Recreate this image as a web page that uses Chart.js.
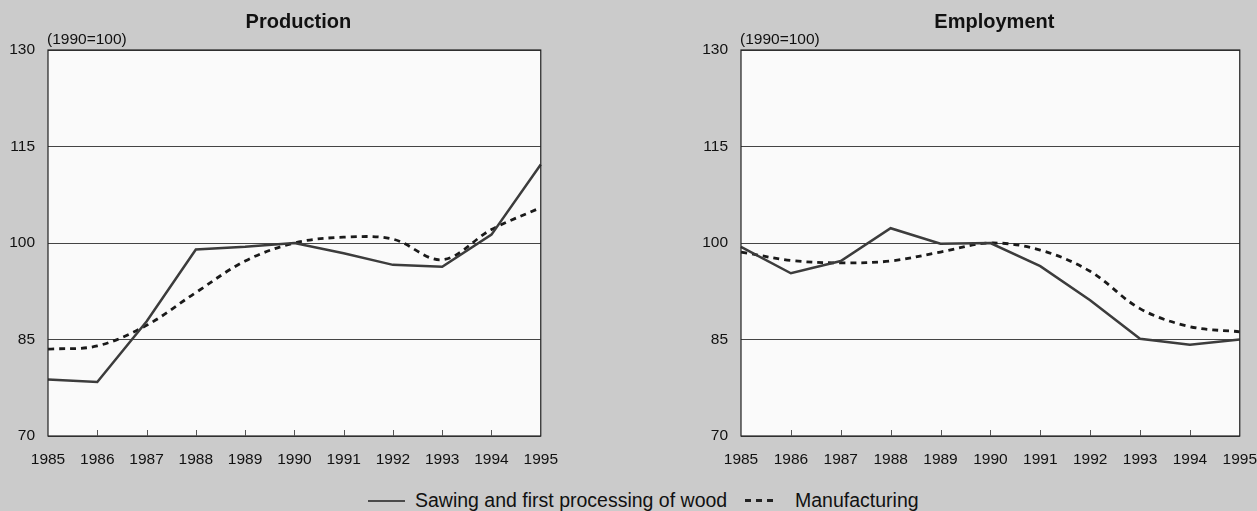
<!DOCTYPE html>
<html>
<head>
<meta charset="utf-8">
<script src="https://cdn.jsdelivr.net/npm/chart.js@4.4.1/dist/chart.umd.min.js"></script>
<style>
    body { margin: 0; width: 1257px; height: 511px; overflow: hidden; background: #cbcbcb; font-family: "Liberation Sans", Arial, sans-serif; }
    .box { position: absolute; top: 0; height: 470px; }
    #prodBox { left: 0; width: 572px; }
    #empBox { left: 693px; width: 578px; }
    #legend { position: absolute; left: 0; top: 489px; width: 1257px; height: 22px; color: #111; font-size: 19.5px; white-space: nowrap; }
    #legend span { position: absolute; top: 0; }
    .solidKey { position: absolute; left: 368px; top: 11px; width: 37px; height: 0; border-top: 2px solid #4a4a4a; }
    .dashKey { position: absolute; left: 745px; top: 10px; width: 31px; height: 3px;
        background: repeating-linear-gradient(90deg, #222 0 6px, transparent 6px 11px); }
</style>
</head>
<body>
<div class="box" id="prodBox"><canvas id="prodChart"></canvas></div>
<div class="box" id="empBox"><canvas id="empChart"></canvas></div>
<div id="legend">
    <div class="solidKey"></div>
    <span style="left:415px">Sawing and first processing of wood</span>
    <div class="dashKey"></div>
    <span style="left:795px">Manufacturing</span>
</div>
<script>
    // years on the x axis
    const years = ['1985', '1986', '1987', '1988', '1989', '1990', '1991', '1992', '1993', '1994', '1995'];

    // Production, 1990=100
    const prodSawing = [78.8, 78.4, 87.8, 99.0, 99.4, 100.0, 98.4, 96.6, 96.3, 101.3, 112.2];
    const prodManuf = [83.5, 84.0, 87.2, 92.3, 97.2, 100.0, 100.9, 100.6, 97.4, 102.1, 105.5];

    // Employment, 1990=100
    const empSawing = [99.4, 95.3, 97.2, 102.3, 99.9, 100.0, 96.4, 91.1, 85.1, 84.2, 85.0];
    const empManuf = [98.6, 97.3, 96.9, 97.2, 98.6, 100.0, 98.9, 95.6, 89.8, 87.0, 86.2];

    const yTicks = [70, 85, 100, 115, 130];
    const unitLabel = '(1990=100)';
    const fontFam = '"Liberation Sans", Arial, sans-serif';

    // plot background, frame, inner tick marks, title and unit text
    const framePlugin = {
        id: 'frame',
        beforeDraw(chart) {
            const a = chart.chartArea, ctx = chart.ctx;
            ctx.save();
            ctx.fillStyle = '#fafafa';
            ctx.fillRect(a.left, a.top, a.right - a.left, a.bottom - a.top);
            ctx.restore();
        },
        afterDraw(chart) {
            const a = chart.chartArea, ctx = chart.ctx;
            const xs = chart.scales.x;
            ctx.save();
            ctx.strokeStyle = '#222';
            ctx.lineWidth = 1.2;
            ctx.strokeRect(a.left, a.top, a.right - a.left, a.bottom - a.top);
            ctx.lineWidth = 1;
            ctx.strokeStyle = '#555';
            for (let i = 1; i < years.length - 1; i++) {
                const px = Math.round(xs.getPixelForTick(i)) + 0.5;
                ctx.beginPath();
                ctx.moveTo(px, a.bottom);
                ctx.lineTo(px, a.bottom - 6);
                ctx.stroke();
            }
            ctx.fillStyle = '#111';
            ctx.textAlign = 'center';
            ctx.textBaseline = 'middle';
            ctx.font = 'bold 20px ' + fontFam;
            ctx.fillText(chart.options.plugins.frame.title, (a.left + a.right) / 2 + 4, 22);
            ctx.textAlign = 'left';
            ctx.font = '15.5px ' + fontFam;
            ctx.fillText(unitLabel, a.left - 1, 40);
            ctx.restore();
        }
    };

    function makeChart(id, title, sawing, manuf) {
        return new Chart(document.getElementById(id), {
            type: 'line',
            data: {
                labels: years,
                datasets: [{
                    label: 'Sawing and first processing of wood',
                    data: sawing,
                    borderColor: '#3c3c3c',
                    borderWidth: 2.5,
                    tension: 0,
                    pointRadius: 0
                }, {
                    label: 'Manufacturing',
                    data: manuf,
                    borderColor: '#1a1a1a',
                    borderWidth: 2.8,
                    borderDash: [6, 5],
                    tension: 0.35,
                    pointRadius: 0
                }]
            },
            options: {
                responsive: true,
                maintainAspectRatio: false,
                animation: false,
                layout: { padding: { top: 50, right: 0, left: 0, bottom: 0 } },
                plugins: {
                    legend: { display: false },
                    tooltip: { enabled: false },
                    frame: { title: title }
                },
                scales: {
                    x: {
                        grid: { display: false, drawTicks: false },
                        border: { display: false },
                        ticks: {
                            color: '#111',
                            font: { size: 15.5, family: fontFam },
                            padding: 14,
                            maxRotation: 0,
                            autoSkip: false
                        },
                        afterFit: s => { s.height = 34; }
                    },
                    y: {
                        min: 70,
                        max: 130,
                        afterBuildTicks: s => { s.ticks = yTicks.map(v => ({ value: v })); },
                        grid: { color: '#444', lineWidth: 1, drawTicks: false },
                        border: { display: false },
                        ticks: {
                            color: '#111',
                            font: { size: 15.5, family: fontFam },
                            padding: 13
                        },
                        afterFit: s => { s.width = 48; }
                    }
                }
            },
            plugins: [framePlugin]
        });
    }

    makeChart('prodChart', 'Production', prodSawing, prodManuf);
    makeChart('empChart', 'Employment', empSawing, empManuf);
</script>
</body>
</html>
